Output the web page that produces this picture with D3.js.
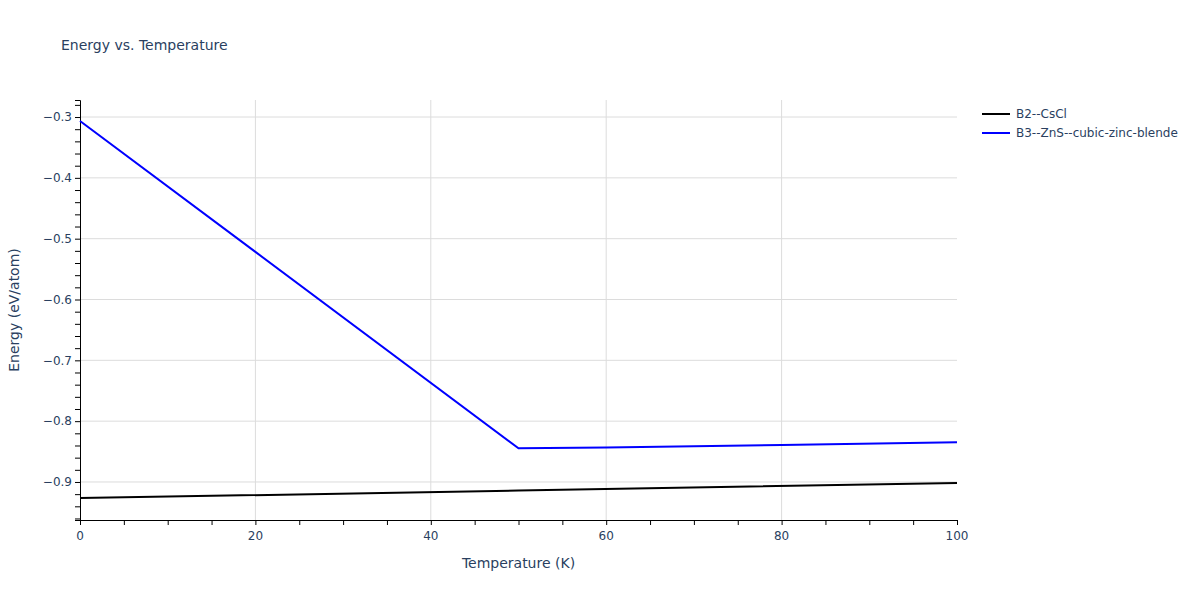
<!DOCTYPE html>
<html><head><meta charset="utf-8">
<script src="https://cdn.jsdelivr.net/npm/d3@7"></script>
<style>body{margin:0;background:#fff;} text{font-family:"DejaVu Sans",Verdana,sans-serif;}</style>
</head><body><svg id="c" width="1200" height="600"></svg>
<script>
const seriesNames = ["B2--CsCl", "B3--ZnS--cubic-zinc-blende"];
const seriesColors = ["#000000", "#0000ff"];
const b2Temp = [0, 50, 100];
const b2Energy = [-0.9265, -0.9142, -0.9015];
const b3Temp = [0, 20, 50, 60, 80, 100];
const b3Energy = [-0.3065, -0.5217, -0.8445, -0.8432, -0.8392, -0.8345];
const xTicks = [0, 20, 40, 60, 80, 100];
const yTicks = [-0.9, -0.8, -0.7, -0.6, -0.5, -0.4, -0.3];

const svg = d3.select("#c");
const L = 80, R = 957, T = 100, B = 520;
const x = d3.scaleLinear().domain([0, 100]).range([L, R]);
const y = d3.scaleLinear().domain([-0.9625, -0.2720]).range([B, T]);
const txt = "#2a3f5f";

// grid
svg.append("g").selectAll("line").data(yTicks).join("line")
  .attr("x1", L).attr("x2", R).attr("y1", d => y(d)).attr("y2", d => y(d))
  .attr("stroke", "#dcdcdc").attr("stroke-width", 1);
svg.append("g").selectAll("line").data(xTicks.filter(d => d > 0 && d < 100)).join("line")
  .attr("y1", T).attr("y2", B).attr("x1", d => x(d)).attr("x2", d => x(d))
  .attr("stroke", "#dcdcdc").attr("stroke-width", 1);

// axes
const xAxis = d3.axisBottom(x).tickValues(d3.range(0, 100.1, 5)).tickSize(5).tickFormat("");
const gx = svg.append("g").attr("transform", `translate(0,${B})`).call(xAxis);
gx.select(".domain").attr("stroke", "#000");
gx.selectAll(".tick line").attr("stroke", "#000");
svg.append("g").selectAll("text").data(xTicks).join("text")
  .attr("x", d => x(d)).attr("y", B + 20).attr("text-anchor", "middle")
  .attr("font-size", 12).attr("fill", txt).text(d => d3.format("d")(d));

const yMinor = d3.range(-0.96, -0.279, 0.02).map(v => +v.toFixed(2));
const yAxis = d3.axisLeft(y).tickValues(yMinor).tickSize(5).tickFormat("");
const gy = svg.append("g").attr("transform", `translate(${L},0)`).call(yAxis);
gy.select(".domain").attr("stroke", "#000");
gy.selectAll(".tick line").attr("stroke", "#000");
svg.append("g").selectAll("text").data(yTicks).join("text")
  .attr("x", L - 8).attr("y", d => y(d)).attr("dy", "0.35em").attr("text-anchor", "end")
  .attr("font-size", 12).attr("fill", txt).text(d => d3.format(".1f")(d));

// lines
const line = d3.line().x(d => x(d[0])).y(d => y(d[1]));
const data = [d3.zip(b2Temp, b2Energy), d3.zip(b3Temp, b3Energy)];
svg.append("g").selectAll("path").data(data).join("path")
  .attr("d", line).attr("fill", "none")
  .attr("stroke", (d, i) => seriesColors[i]).attr("stroke-width", 2);

// titles
svg.append("text").attr("x", 61).attr("y", 50).attr("font-size", 14).attr("fill", txt).text("Energy vs. Temperature");
svg.append("text").attr("x", (L + R) / 2).attr("y", 568).attr("text-anchor", "middle")
  .attr("font-size", 14).attr("fill", txt).text("Temperature (K)");
svg.append("text").attr("transform", `translate(19,${(T + B) / 2}) rotate(-90)`).attr("text-anchor", "middle")
  .attr("font-size", 14).attr("fill", txt).text("Energy (eV/atom)");

// legend
const lg = svg.append("g").selectAll("g").data(seriesNames).join("g")
  .attr("transform", (d, i) => `translate(982,${114 + i * 19})`);
lg.append("line").attr("x1", 0).attr("x2", 28).attr("stroke", (d, i) => seriesColors[i]).attr("stroke-width", 2);
lg.append("text").attr("x", 34).attr("dy", "0.35em").attr("font-size", 12).attr("fill", txt).text(d => d);
</script></body></html>
